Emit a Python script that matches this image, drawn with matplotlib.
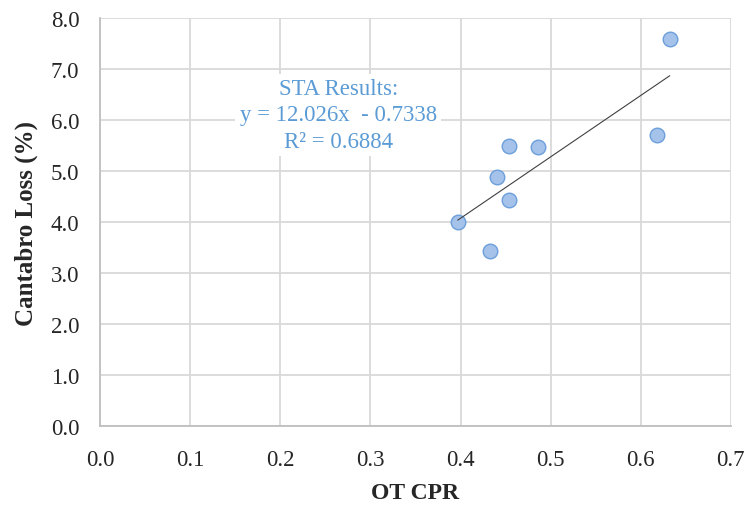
import matplotlib
matplotlib.use("Agg")
import matplotlib.pyplot as plt
import numpy as np

# OT CPR vs Cantabro loss measurements
ot_cpr = [0.632, 0.618, 0.397, 0.433, 0.440, 0.454, 0.454, 0.486]
cantabro_loss = [7.59, 5.70, 4.00, 3.43, 4.88, 4.44, 5.49, 5.48]

# Linear fit reported in the annotation
slope = 12.026
intercept = -0.7338
r_squared = 0.6884

x_ticks = [0.0, 0.1, 0.2, 0.3, 0.4, 0.5, 0.6, 0.7]
y_ticks = [0.0, 1.0, 2.0, 3.0, 4.0, 5.0, 6.0, 7.0, 8.0]

plt.rcParams['font.family'] = ['Liberation Serif', 'DejaVu Serif']

fig = plt.figure(figsize=(7.45, 5.06), dpi=100)
ax = fig.add_axes([0.1345, 0.1555, 0.8465, 0.807])

grid_color = '#D9D9D9'
axis_color = '#BFBFBF'

ax.set_xlim(0, 0.7)
ax.set_ylim(0, 8)
ax.set_xticks(x_ticks)
ax.set_yticks(y_ticks)
ax.set_xticklabels([f'{v:.1f}' for v in x_ticks])
ax.set_yticklabels([f'{v:.1f}' for v in y_ticks])
ax.grid(True, color=grid_color, linewidth=1.3, zorder=0)
ax.set_axisbelow(True)
ax.tick_params(axis='both', length=0, labelsize=16.5, colors='#262626')
ax.tick_params(axis='x', pad=16)
ax.tick_params(axis='y', pad=15)

for side in ['top', 'right']:
    ax.spines[side].set_visible(False)
for side in ['left', 'bottom']:
    ax.spines[side].set_color(axis_color)
    ax.spines[side].set_linewidth(1.3)

ax.scatter(ot_cpr, cantabro_loss, s=110, color='#A4C2EA', edgecolors='#6C9FDB',
           linewidths=1.0, zorder=3, clip_on=False)

# Trendline over the range of the data
fit_x = np.array([min(ot_cpr), max(ot_cpr)])
fit_y = slope * fit_x + intercept
ax.plot(fit_x, fit_y, color='#404040', linewidth=0.8, zorder=4)

ax.text(0.2643, 6.1,
        f'STA Results:\ny = {slope:.3f}x  - {abs(intercept):.4f}\nR² = {r_squared:.4f}',
        ha='center', va='center', fontsize=16.4, color='#5B9BD5',
        linespacing=1.32, zorder=5,
        bbox=dict(boxstyle='square,pad=0.2', facecolor='white', edgecolor='none'))

ax.set_xlabel('OT CPR', fontsize=17, fontweight='bold', color='#262626', labelpad=9)
ax.set_ylabel('Cantabro Loss (%)', fontsize=18, fontweight='bold', color='#262626', labelpad=9)

fig.savefig('out.png', dpi=100)
